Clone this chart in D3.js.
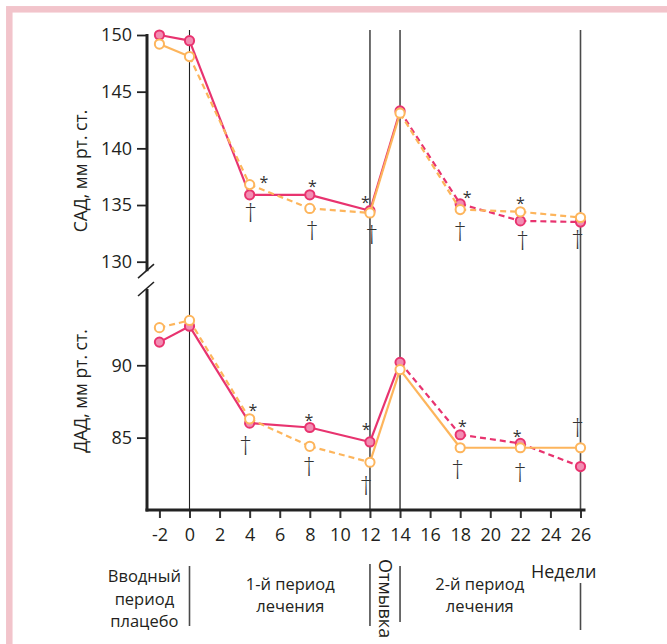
<!DOCTYPE html>
<html>
<head>
<meta charset="utf-8">
<script src="https://cdn.jsdelivr.net/npm/d3@7"></script>
<style>
  body { margin: 0; background: #fff; }
  svg { display: block; }
</style>
</head>
<body>
<div id="chart"></div>
<script>
// ---- Data ----
const weeks      = [-2, 0, 4, 8, 12, 14, 18, 22, 26];
const sadPink    = [150.0, 149.5, 135.9, 135.9, 134.5, 143.3, 135.1, 133.6, 133.5];
const sadOrange  = [149.2, 148.1, 136.8, 134.7, 134.3, 143.1, 134.6, 134.4, 133.9];
const dadPink    = [91.6, 92.7, 86.0, 85.7, 84.7, 90.2, 85.2, 84.6, 83.0];
const dadOrange  = [92.6, 93.1, 86.3, 84.4, 83.3, 89.7, 84.3, 84.3, 84.3];

const xTicks     = [-2, 0, 2, 4, 6, 8, 10, 12, 14, 16, 18, 20, 22, 24, 26];
const sadTicks   = [130, 135, 140, 145, 150];
const dadTicks   = [85, 90];
const periodWeeks = [0, 12, 14, 26];

// significance marks, [week, value]
const sadStars   = [[4.95, 137.3], [8.17, 136.9], [11.7, 135.5], [18.47, 136.0], [22.0, 135.4]];
const sadDaggers = [[4.07, 134.2], [8.16, 132.6], [12.12, 132.2], [17.99, 132.5], [22.15, 131.7], [25.81, 131.8]];
const dadStars   = [[4.21, 87.1], [7.94, 86.45], [11.74, 85.8], [18.14, 86.0], [21.79, 85.35]];
const dadDaggers = [[3.74, 84.35], [7.96, 82.86], [11.74, 81.55], [17.83, 82.63], [21.98, 82.42], [25.81, 85.58]];

const sadLabel = "САД, мм рт. ст.";
const dadLabel = "ДАД, мм рт. ст.";

// ---- Layout ----
const W = 667, H = 644;
const FONT = "'Open Sans', 'Noto Sans', sans-serif";
const INK = "#231f20";
const PINK = "#e8336f", PINK_FILL = "#f28db3";
const ORANGE = "#fdb55c";

const svg = d3.select("#chart").append("svg")
  .attr("width", W).attr("height", H)
  .attr("viewBox", `0 0 ${W} ${H}`)
  .style("font-family", FONT);

svg.append("rect").attr("width", W).attr("height", H).attr("fill", "#fff");

// pink frame, only top and left edges visible
svg.append("rect")
  .attr("x", 9.3).attr("y", 9.3)
  .attr("width", W + 20).attr("height", H + 20)
  .attr("fill", "none")
  .attr("stroke", "#f2c4cb")
  .attr("stroke-width", 6.5);

// ---- Scales ----
const x = d3.scaleLinear().domain([0, 26]).range([189.5, 580.5]);
const yTop = d3.scaleLinear().domain([130, 150]).range([261.7, 35]);
const yBot = d3.scaleLinear().domain([80, 95.2]).range([510, 290]);

const axisX = 147;

// ---- Period separators (full height) ----
periodWeeks.forEach(w => {
  svg.append("line")
    .attr("x1", x(w)).attr("x2", x(w))
    .attr("y1", 30).attr("y2", yBot(80))
    .attr("stroke", w === 0 ? "#222" : "#4a4a4a")
    .attr("stroke-width", w === 0 ? 1.1 : 1.6);
});

// ---- Axes ----
const gx = svg.append("g")
  .attr("transform", `translate(0,${yBot(80)})`)
  .call(d3.axisBottom(x).tickValues(xTicks).tickFormat(d => String(d))
    .tickSize(8).tickPadding(10).tickSizeOuter(0));
gx.select(".domain").remove();
gx.selectAll(".tick line").attr("stroke", "#333").attr("stroke-width", 2);
gx.selectAll(".tick text").attr("font-size", 18).attr("fill", INK).attr("font-family", FONT);

function styleY(g) {
  g.select(".domain").remove();
  g.selectAll(".tick line").attr("stroke", "#222").attr("stroke-width", 1.8);
  g.selectAll(".tick text").attr("font-size", 18).attr("fill", INK).attr("font-family", FONT);
}
svg.append("g").attr("transform", `translate(${axisX},0)`)
  .call(d3.axisLeft(yTop).tickValues(sadTicks).tickSize(10).tickPadding(5))
  .call(styleY);
svg.append("g").attr("transform", `translate(${axisX},0)`)
  .call(d3.axisLeft(yBot).tickValues(dadTicks).tickSize(10).tickPadding(5))
  .call(styleY);

// axis lines with break
const topEnd = yTop(130) + 9.5;
const botStart = yBot(95.2) - 1;
svg.append("line").attr("x1", axisX).attr("x2", axisX)
  .attr("y1", yTop(150) - 1).attr("y2", topEnd)
  .attr("stroke", "#222").attr("stroke-width", 3);
svg.append("line").attr("x1", axisX).attr("x2", axisX)
  .attr("y1", botStart).attr("y2", yBot(80) + 1.5)
  .attr("stroke", "#222").attr("stroke-width", 3);
svg.append("line").attr("x1", axisX - 1.5).attr("x2", x(26) + 5)
  .attr("y1", yBot(80)).attr("y2", yBot(80))
  .attr("stroke", "#222").attr("stroke-width", 3);
[topEnd, botStart].forEach(cy => {
  svg.append("line")
    .attr("x1", axisX - 9).attr("y1", cy + 7)
    .attr("x2", axisX + 7).attr("y2", cy - 7)
    .attr("stroke", "#222").attr("stroke-width", 1.6);
});

// ---- Y axis titles ----
svg.append("text")
  .attr("transform", `translate(87,171) rotate(-90)`)
  .attr("text-anchor", "middle")
  .attr("font-size", 17.5).attr("fill", INK)
  .text(sadLabel);
svg.append("text")
  .attr("transform", `translate(87,391) rotate(-90)`)
  .attr("text-anchor", "middle")
  .attr("font-size", 17.5).attr("fill", INK)
  .text(dadLabel);

// ---- Series ----
// which segments are drawn dashed (segment i joins point i and i+1)
const sadPinkDash   = [0, 0, 0, 0, 0, 1, 1, 1];
const sadOrangeDash = [0, 1, 1, 1, 0, 1, 1, 1];
const dadPinkDash   = [0, 0, 0, 0, 0, 1, 1, 1];
const dadOrangeDash = [1, 1, 1, 1, 0, 0, 0, 0];

function drawSeries(vals, y, dash, color, fill) {
  const g = svg.append("g");
  const line = d3.line().x(d => x(d[0])).y(d => y(d[1]));
  for (let i = 0; i < vals.length - 1; i++) {
    g.append("path")
      .attr("d", line([[weeks[i], vals[i]], [weeks[i + 1], vals[i + 1]]]))
      .attr("fill", "none")
      .attr("stroke", color)
      .attr("stroke-width", 2.2)
      .attr("stroke-dasharray", dash[i] ? "6,4" : null);
  }
  g.selectAll("circle")
    .data(vals)
    .join("circle")
    .attr("cx", (d, i) => x(weeks[i]))
    .attr("cy", d => y(d))
    .attr("r", 4.6)
    .attr("fill", fill)
    .attr("stroke", color)
    .attr("stroke-width", 2);
}

drawSeries(sadPink, yTop, sadPinkDash, PINK, PINK_FILL);
drawSeries(sadOrange, yTop, sadOrangeDash, ORANGE, "#fff");
drawSeries(dadPink, yBot, dadPinkDash, PINK, PINK_FILL);
drawSeries(dadOrange, yBot, dadOrangeDash, ORANGE, "#fff");

// ---- Significance marks ----
function marks(list, y, glyph, size, dy, weight) {
  svg.append("g").selectAll("text")
    .data(list)
    .join("text")
    .attr("x", d => x(d[0]))
    .attr("y", d => y(d[1]))
    .attr("dy", dy)
    .attr("text-anchor", "middle")
    .attr("font-size", size)
    .attr("font-weight", weight)
    .attr("fill", "#333")
    .text(glyph);
}
marks(sadStars, yTop, "*", 16, "0.56em", 400);
marks(dadStars, yBot, "*", 16, "0.56em", 400);
marks(sadDaggers, yTop, "†", 25, "0.3em", 300);
marks(dadDaggers, yBot, "†", 25, "0.3em", 300);

// ---- Period labels under the axis ----
const lab = svg.append("g").attr("font-size", 16.5).attr("fill", INK);
function block(cx, y0, lines) {
  lines.forEach((s, i) => {
    lab.append("text")
      .attr("text-anchor", "middle")
      .attr("x", cx).attr("y", y0 + i * 22.5)
      .text(s);
  });
}
block(x(-3.0), 582, ["Вводный", "период", "плацебо"]);
block(x(6.7), 589.5, ["1-й период", "лечения"]);
block(x(19.3), 589.5, ["2-й период", "лечения"]);
lab.append("text")
  .attr("x", x(26) + 16).attr("y", 577.5)
  .attr("text-anchor", "end")
  .attr("font-size", 18)
  .text("Недели");
lab.append("text")
  .attr("transform", `translate(${x(13) - 7},559) rotate(90)`)
  .attr("text-anchor", "start")
  .attr("font-size", 18)
  .attr("dy", "-0.05em")
  .text("Отмывка");

// short separators between the period labels
const sepGap = [[0, 566, 626], [12, 564, 626], [14, 566, 622], [26, 583, 630]];
sepGap.forEach(([w, y1, y2]) => {
  svg.append("line")
    .attr("x1", x(w)).attr("x2", x(w))
    .attr("y1", y1).attr("y2", y2)
    .attr("stroke", "#4a4a4a").attr("stroke-width", 1.6);
});
</script>
</body>
</html>
